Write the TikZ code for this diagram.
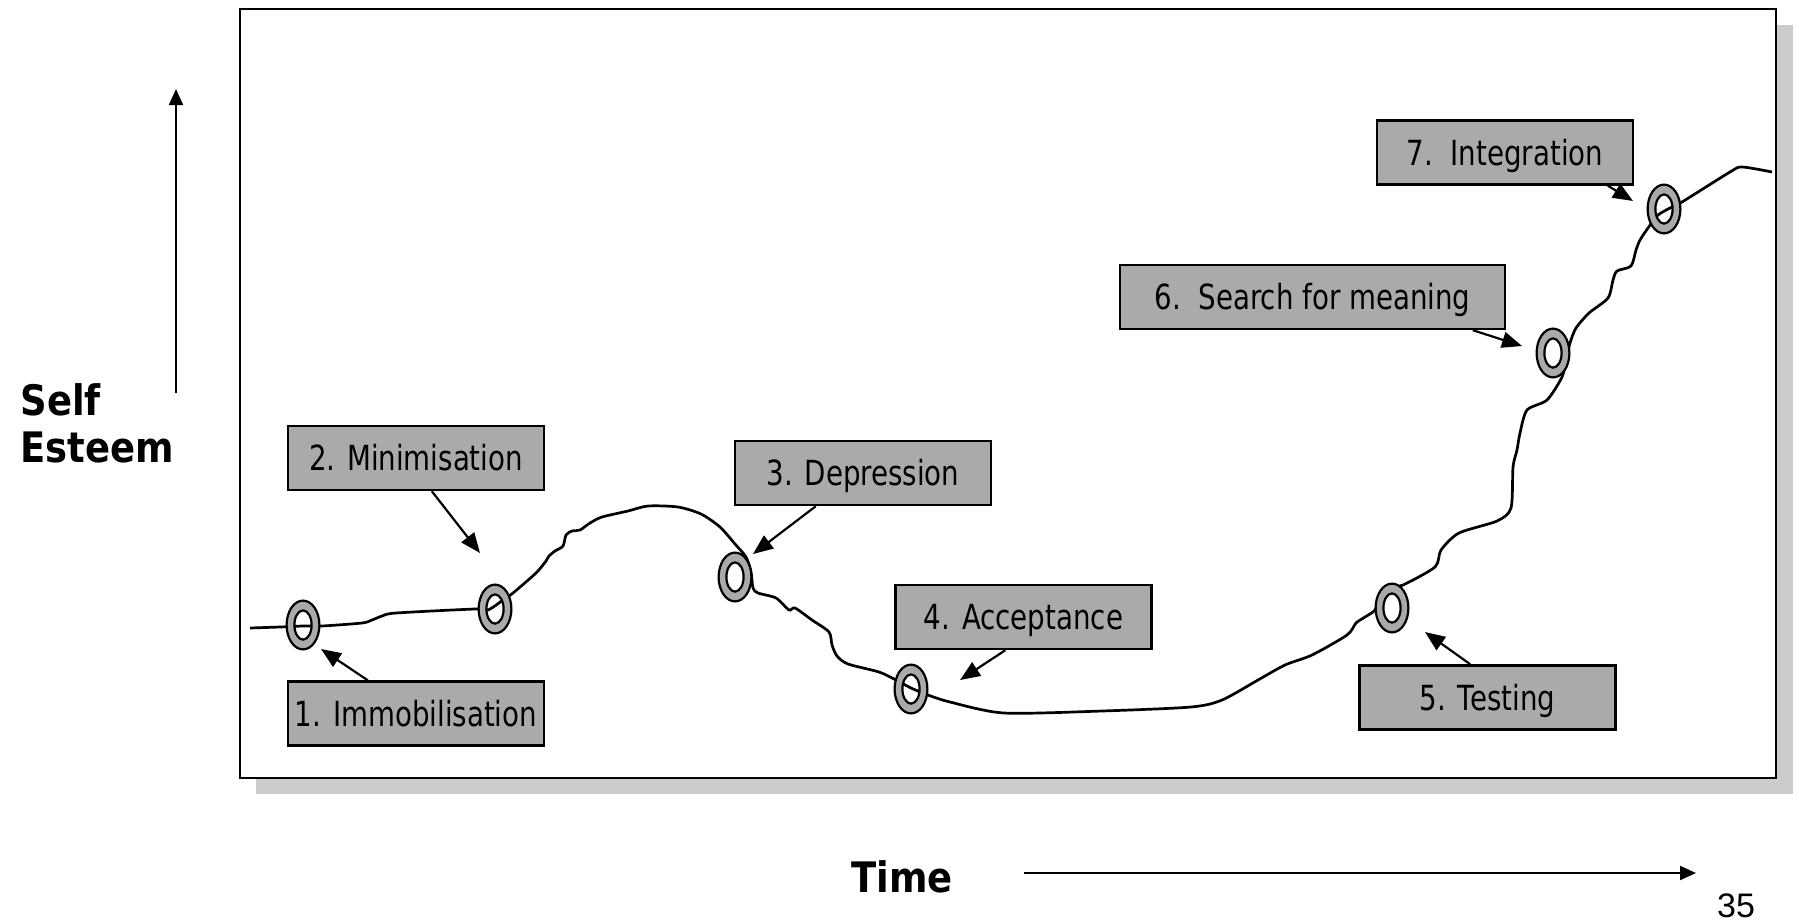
\documentclass[tikz,border=0pt]{standalone}
\usepackage{fontspec}
\usetikzlibrary{arrows.meta,calc}
\setmainfont{DejaVu Sans}
\newfontfamily\labelfont{DejaVu Sans}[FakeStretch=0.80]
\newfontfamily\axisfont{DejaVu Sans}[FakeStretch=0.88]
\newfontfamily\pagefont{Liberation Sans}
\definecolor{boxgray}{HTML}{AAAAAA}
\definecolor{shadowgray}{HTML}{CCCCCC}
\tikzset{
  stagebox/.style={draw=black, line width=1.2pt, fill=boxgray, inner sep=0pt,
    minimum height=32pt, minimum width=128pt, text height=12.5pt, text depth=0pt,
    font=\labelfont\fontsize{17.3pt}{20pt}\selectfont},
  pointer/.style={line width=1.1pt, -{Triangle[length=10pt,width=8pt]}},
  axisarrow/.style={line width=1.1pt, -{Triangle[length=8pt,width=7pt]}},
  axislabel/.style={inner sep=0pt, font=\axisfont\bfseries\fontsize{21pt}{24pt}\selectfont},
  donut/.style={draw=black, line width=1.1pt, fill=boxgray, even odd rule},
}
\newcommand{\donutat}[1]{%
  \path[donut] (#1) ellipse [x radius=8.2pt, y radius=12.2pt]
               (#1) ellipse [x radius=4.3pt, y radius=7.3pt];}
\begin{document}
\begin{tikzpicture}[x=0.5pt, y=-0.5pt]
\useasboundingbox (0,0) rectangle (1799,922);

% framed plot area with drop shadow
\fill[shadowgray] (256,25) rectangle (1793,794);
\draw[line width=1.2pt, fill=white] (240,9) rectangle (1776,778);

% self-esteem curve
\draw[line width=1.35pt, line join=round] plot[smooth, tension=0.45] coordinates {
 (250,628) (280,627) (303,626) (322,626) (362,623) (372,620) (382,616) (396,613)
 (475,609) (488,610) (503,600) (513,593) (536,573) (546,561) (549,556) (555,551)
 (563,546) (566,535) (572,531) (580,530) (590,523) (602,517) (628,511) (648,506)
 (678,507) (701,514) (720,527) (735,544) (746,557) (751,572) (753,588) (758,593)
 (776,598) (789,610) (795,608) (812,620) (829,632) (832,645) (837,656) (848,664)
 (879,672) (896,680) (911,688) (928,695) (950,702) (1004,713) (1102,711) (1191,707)
 (1222,700) (1258,680) (1285,665) (1312,655) (1347,635) (1356,623) (1365,617)
 (1375,610) (1381,596) (1392,587) (1403,585) (1435,567) (1441,550) (1459,533)
 (1497,521) (1511,508) (1513,467) (1517,450) (1520,433) (1527,410) (1547,400)
 (1562,377) (1566,360) (1570,343) (1576,328) (1589,313) (1608,298) (1613,280)
 (1617,271) (1631,266) (1636,250) (1640,240) (1648,228) (1658,215) (1672,207)
 (1682,202) (1730,172) (1742,167) (1772,172)};

% stage markers on the curve
\coordinate (r1) at (303,625);
\coordinate (r2) at (495,609);
\coordinate (r3) at (735,577);
\coordinate (r4) at (911,689);
\coordinate (r5) at (1392,608);
\coordinate (r6) at (1553,353);
\coordinate (r7) at (1664,209);
\foreach \r in {r1,r2,r3,r4,r5,r6,r7} {\donutat{\r}}

% stage labels
\node[stagebox] (b1) at (416,713.5) {1. Immobilisation};
\node[stagebox] (b2) at (416,458) {2. Minimisation};
\node[stagebox] (b3) at (863,473) {3. Depression};
\node[stagebox] (b4) at (1023.5,617) {4. Acceptance};
\node[stagebox] (b5) at (1487.5,697.5) {5. Testing};
\node[stagebox, minimum width=192.5pt] (b6) at (1312.5,297) {6.\ \ Search for meaning};
\node[stagebox] (b7) at (1505,152.5) {7.\ \ Integration};

% arrow tips beside the markers
\coordinate (h1) at (321,649);
\coordinate (h2) at (480,553);
\coordinate (h3) at (753,554);
\coordinate (h4) at (960,680);
\coordinate (h5) at (1425,632);
\coordinate (h6) at (1522,346);
\coordinate (h7) at (1633,201);

\draw[pointer] ([xshift=40.5pt]b1.north west) -- (h1);
\draw[pointer] ([xshift=72.5pt]b2.south west) -- (h2);
\draw[pointer] ([xshift=41pt]b3.south west) -- (h3);
\draw[pointer] ([xshift=55.5pt]b4.south west) -- (h4);
\draw[pointer] ([xshift=56pt]b5.north west) -- (h5);
\draw[pointer] ([xshift=177pt]b6.south west) -- (h6);
\draw[pointer] ([xshift=116pt]b7.south west) -- (h7);

% axes
\coordinate (ybase) at (176,393);
\coordinate (ytip) at (176,89);
\draw[axisarrow] (ybase) -- (ytip);
\node[axislabel, anchor=base west] (self) at (20,415) {Self};
\node[axislabel, anchor=base west] (esteem) at (20,462) {Esteem};

\node[axislabel, anchor=base west] (time) at (851,892) {Time};
\coordinate (xbase) at (1024,873);
\coordinate (xtip) at (1696,873);
\draw[axisarrow] (xbase) -- (xtip);

% page number
\node[inner sep=0pt, anchor=base, font=\pagefont\fontsize{17pt}{20pt}\selectfont] (page) at (1736,917) {35};
\end{tikzpicture}
\end{document}
